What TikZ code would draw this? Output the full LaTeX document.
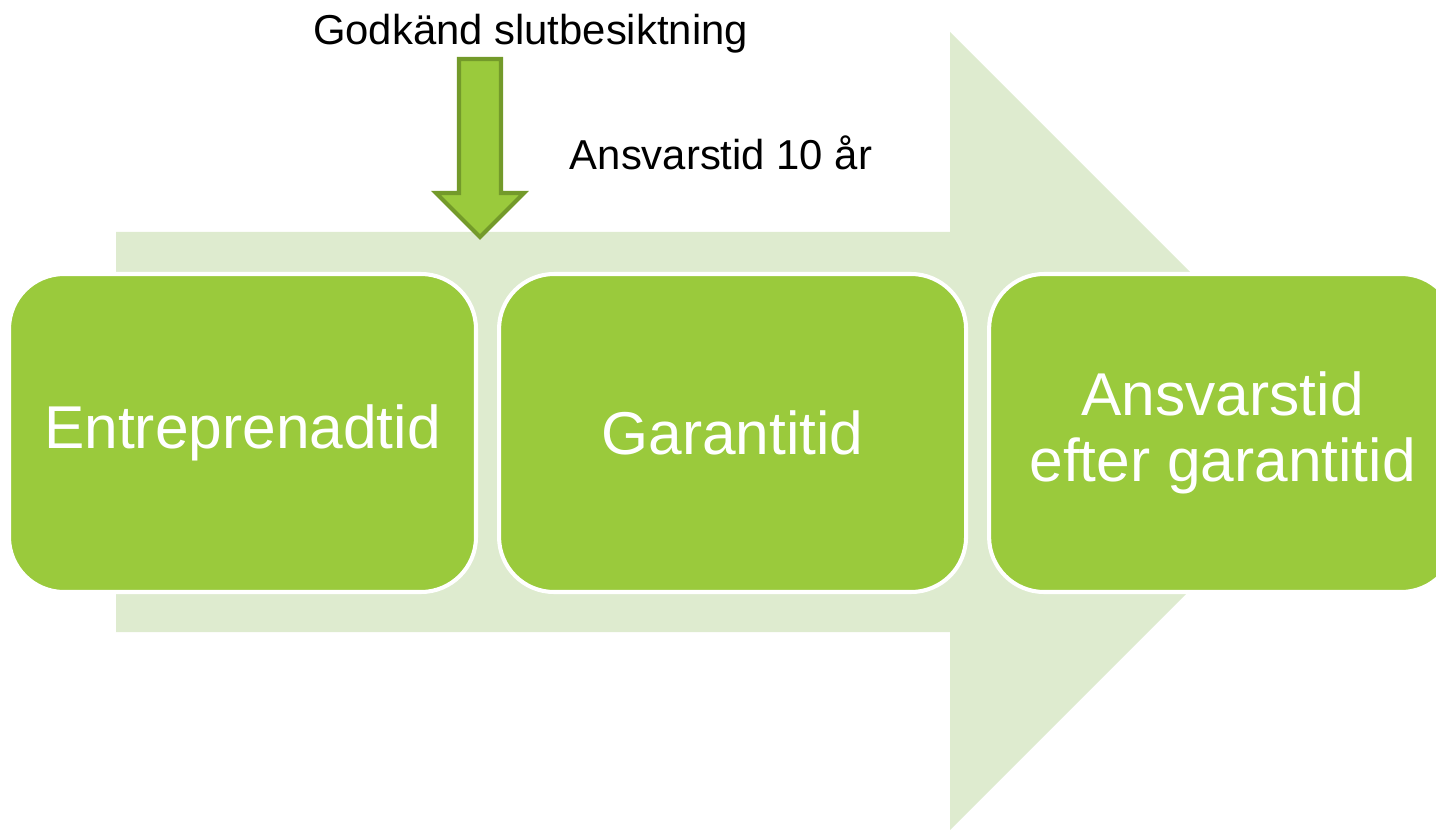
\documentclass[tikz,border=0pt]{standalone}
\usepackage{fontspec}
\setmainfont{Liberation Sans}
\usetikzlibrary{arrows.meta, positioning, calc}
\definecolor{ljusgron}{HTML}{DEEBCF}
\definecolor{gron}{HTML}{9ACA3C}
\definecolor{morkgron}{HTML}{739A2A}

\begin{document}
\begin{tikzpicture}[>=Stealth, block/.style={draw, rectangle}]
    \useasboundingbox (0,0) rectangle (14.36,-8.29);
    % Blocks
    \tikzstyle{fas} = [rectangle, draw=white, line width=1.15pt, fill=gron, text=white,
                       rounded corners=0.55cm, minimum width=4.67cm, minimum height=3.18cm,
                       align=center, font=\fontsize{17.2}{20.4}\selectfont]
    \tikzstyle{etikett} = [font=\fontsize{11.9}{14}\selectfont, inner sep=0pt]

    % Big background arrow
    \fill[ljusgron] (1.16,-2.32) -- (9.50,-2.32) -- (9.50,-0.32) -- (13.49,-4.31)
        -- (9.50,-8.30) -- (9.50,-6.32) -- (1.16,-6.32) -- cycle;

    \node[fas] (entr) at (2.425,-4.33) {Entreprenadtid};
    \node[fas, right=0.19cm of entr] (garanti) {Garantitid};
    \node[fas, right=0.19cm of garanti] (ansvar) {Ansvarstid\\[-1.5pt]efter garantitid};

    % Down arrow
    \coordinate (pil) at (4.80,-0.59);
    \draw[morkgron, fill=gron, line width=1.15pt] (pil) ++(-0.21,0) -- ++(0.42,0) -- ++(0,-1.34)
        -- ++(0.23,0) -- ++(-0.44,-0.44) -- ++(-0.44,0.44) -- ++(0.23,0) -- cycle;

    % Annotations
    \node[etikett] (godkand) at (5.305,-0.335) {Godkänd slutbesiktning};
    \node[etikett] (tio) at (7.21,-1.53) {Ansvarstid 10 år};
\end{tikzpicture}
\end{document}
